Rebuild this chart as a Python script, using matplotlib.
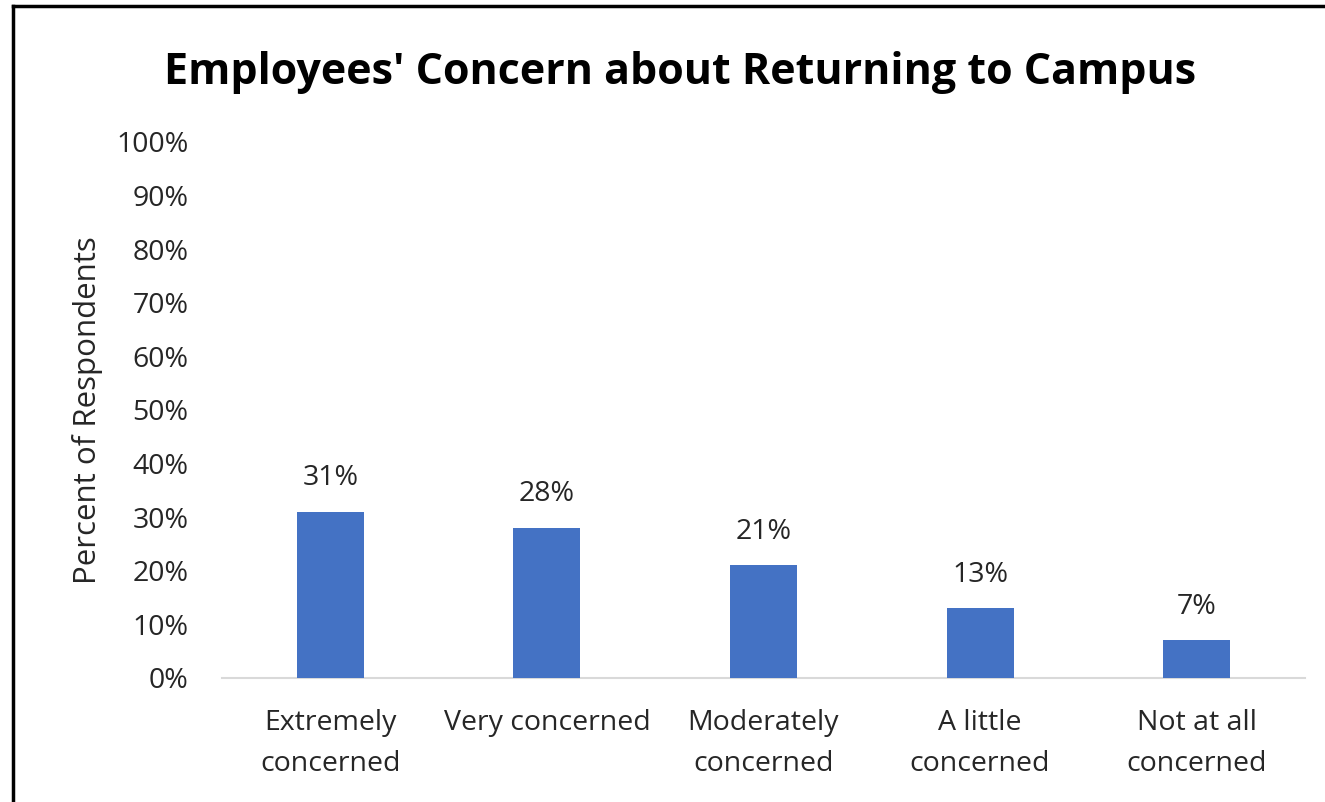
import matplotlib
matplotlib.use("Agg")
import matplotlib.pyplot as plt
from matplotlib.ticker import FixedLocator, FuncFormatter
from matplotlib.lines import Line2D

categories = ["Extremely\nconcerned", "Very concerned", "Moderately\nconcerned",
              "A little\nconcerned", "Not at all\nconcerned"]
values = [31, 28, 21, 13, 7]
yticks = [0, 10, 20, 30, 40, 50, 60, 70, 80, 90, 100]

plt.rcParams['font.family'] = ['Open Sans', 'DejaVu Sans']

fig = plt.figure(figsize=(13.25, 8.02), dpi=100)
ax = fig.add_axes([222/1325, 1-678/802, (1305-222)/1325, (678-142)/802])

x = list(range(len(categories)))
bars = ax.bar(x, values, width=0.31, color="#4472C4", zorder=3)
ax.set_xlim(-0.5, len(categories)-0.5)
ax.set_ylim(0, 100)
ax.yaxis.set_major_locator(FixedLocator(yticks))
ax.yaxis.set_major_formatter(FuncFormatter(lambda v, p: f"{int(v)}%"))
ax.set_xticks(x)
ax.set_xticklabels(categories, va="top", linespacing=1.62)

for s in ["top", "right", "left"]:
    ax.spines[s].set_visible(False)
ax.spines["bottom"].set_color("#d9d9d9")
ax.spines["bottom"].set_linewidth(1.5)
ax.tick_params(axis="both", length=0, labelsize=20.5, colors="#262626")
ax.tick_params(axis="y", pad=24)
ax.tick_params(axis="x", pad=22)

for xi, v in zip(x, values):
    ax.annotate(f"{v}%", (xi, v), xytext=(0, 14), textcoords="offset points",
                ha="center", va="bottom", fontsize=20.5, color="#262626")

ax.set_ylabel("Percent of Respondents", fontsize=22.5, color="#262626", labelpad=10)

fig.text(680/1325, 1-72/802, "Employees' Concern about Returning to Campus",
         ha="center", va="center", fontsize=31, fontweight="bold", color="black")

fig.add_artist(Line2D([13/1325, 13/1325], [0, 1-6/802], color="black", lw=2.5,
                      transform=fig.transFigure))
fig.add_artist(Line2D([13/1325, 1], [1-6/802, 1-6/802], color="black", lw=2.5,
                      transform=fig.transFigure))

fig.savefig("out.png", dpi=100)
